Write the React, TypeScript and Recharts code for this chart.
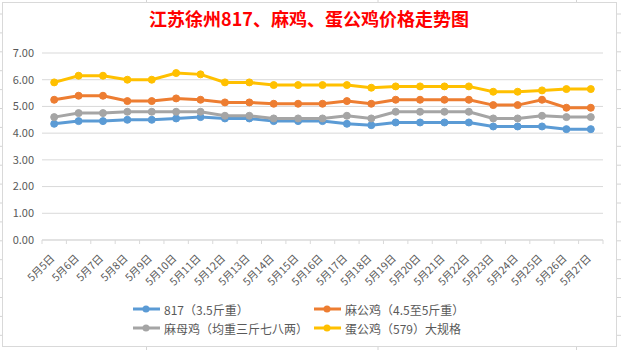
import React from "react";
import { LineChart, Line, XAxis, YAxis, CartesianGrid } from "recharts";

const title = "江苏徐州817、麻鸡、蛋公鸡价格走势图";

const dates = [
    "5月5日", "5月6日", "5月7日", "5月8日", "5月9日", "5月10日", "5月11日", "5月12日",
    "5月13日", "5月14日", "5月15日", "5月16日", "5月17日", "5月18日", "5月19日", "5月20日",
    "5月21日", "5月22日", "5月23日", "5月24日", "5月25日", "5月26日", "5月27日",
];

const price817 = [4.35, 4.45, 4.45, 4.5, 4.5, 4.55, 4.6, 4.55, 4.55, 4.45, 4.45, 4.45, 4.35, 4.3, 4.4, 4.4, 4.4, 4.4, 4.25, 4.25, 4.25, 4.15, 4.15];
const maGongJi = [5.25, 5.4, 5.4, 5.2, 5.2, 5.3, 5.25, 5.15, 5.15, 5.1, 5.1, 5.1, 5.2, 5.1, 5.25, 5.25, 5.25, 5.25, 5.05, 5.05, 5.25, 4.95, 4.95];
const maMuJi = [4.6, 4.75, 4.75, 4.8, 4.8, 4.8, 4.8, 4.65, 4.65, 4.55, 4.55, 4.55, 4.65, 4.55, 4.8, 4.8, 4.8, 4.8, 4.55, 4.55, 4.65, 4.6, 4.6];
const danGongJi = [5.9, 6.15, 6.15, 6.0, 6.0, 6.25, 6.2, 5.9, 5.9, 5.8, 5.8, 5.8, 5.8, 5.7, 5.75, 5.75, 5.75, 5.75, 5.55, 5.55, 5.6, 5.65, 5.65];

const seriesNames = ["817（3.5斤重）", "麻公鸡（4.5至5斤重）", "麻母鸡（均重三斤七八两）", "蛋公鸡（579）大规格"];
const yTicks = [0, 1, 2, 3, 4, 5, 6, 7];

const series = [
    { key: "s817", name: seriesNames[0], color: "#5B9BD5", values: price817 },
    { key: "maGong", name: seriesNames[1], color: "#ED7D31", values: maGongJi },
    { key: "maMu", name: seriesNames[2], color: "#A5A5A5", values: maMuJi },
    { key: "danGong", name: seriesNames[3], color: "#FFC000", values: danGongJi },
];

const data = dates.map((d, i) => {
    const row: Record<string, string | number> = { date: d };
    series.forEach((s) => (row[s.key] = s.values[i]));
    return row;
});

const W = 621;
const H = 350;
const margin = { top: 53, right: 18, bottom: 80, left: 0 };
const yAxisWidth = 42;
const band = (W - margin.left - margin.right - yAxisWidth) / dates.length;
const font = '"Microsoft YaHei", "Noto Sans CJK SC", sans-serif';

function DateTick(props: any) {
    const { x, y, payload, index } = props;
    const tx = x + 1;
    const ty = y + 19;
    return (
        <g>
            <line x1={x - band / 2} y1={y} x2={x - band / 2} y2={y + 4} stroke="#D9D9D9" />
            {index === dates.length - 1 && (
                <line x1={x + band / 2} y1={y} x2={x + band / 2} y2={y + 4} stroke="#D9D9D9" />
            )}
            <text x={tx} y={ty} textAnchor="end" fontSize={10.5} fill="#595959" fontFamily={font} transform={`rotate(-45, ${tx}, ${ty})`}>
                {payload.value}
            </text>
        </g>
    );
}

function LegendItem({ name, color, x, y }: { name: string; color: string; x: number; y: number }) {
    return (
        <div style={{ position: "absolute", left: x, top: y - 9, height: 18, display: "flex", alignItems: "center", whiteSpace: "nowrap" }}>
            <svg width={30} height={10} style={{ marginRight: 2 }}>
                <line x1={1} y1={5} x2={28} y2={5} stroke={color} strokeWidth={3} />
                <circle cx={14} cy={5} r={3.5} fill={color} />
            </svg>
            <span style={{ fontSize: 12, color: "#595959", fontFamily: font }}>{name}</span>
        </div>
    );
}

const colLines = [146.5, 378, 576.5];
const rowLines = Array.from({ length: 18 }, (_, i) => 14 + i * 18.9);

export default function App() {
    const legendPos = [
        { x: 132, y: 309 },
        { x: 313, y: 309 },
        { x: 132, y: 328 },
        { x: 313, y: 328 },
    ];
    return (
        <div style={{ position: "fixed", left: 0, top: 0, width: W, height: H, background: "#fff", overflow: "hidden" }}>
            <svg width={W} height={H} style={{ position: "absolute", left: 0, top: 0 }}>
                {colLines.map((cx) => (
                    <line key={cx} x1={cx} y1={0} x2={cx} y2={H} stroke="#D4D4D4" />
                ))}
                {rowLines.map((ry) => (
                    <line key={ry} x1={0} y1={ry} x2={W} y2={ry} stroke="#D4D4D4" />
                ))}
            </svg>
            <div style={{ position: "absolute", left: 2, top: 2, width: 613, height: 343, background: "#fff", border: "1px solid #D9D9D9" }} />
            <div style={{ position: "absolute", left: 2, top: 8, width: 614, lineHeight: "20px", textAlign: "center", color: "#FF0000", fontWeight: "bold", fontSize: 18, fontFamily: font }}>
                {title}
            </div>
            <div style={{ position: "absolute", left: 0, top: 0 }}>
                <LineChart width={W} height={H} data={data} margin={margin}>
                    <CartesianGrid vertical={false} stroke="#D9D9D9" />
                    <XAxis
                        dataKey="date"
                        interval={0}
                        height={30}
                        padding={{ left: band / 2, right: band / 2 }}
                        tickSize={0}
                        tickMargin={0}
                        tickLine={false}
                        axisLine={{ stroke: "#D9D9D9" }}
                        tick={<DateTick />}
                    />
                    <YAxis
                        width={yAxisWidth}
                        domain={[0, 7]}
                        ticks={yTicks}
                        axisLine={false}
                        tickLine={false}
                        tickFormatter={(v: number) => v.toFixed(2)}
                        tick={{ fontSize: 11, fill: "#595959", fontFamily: font }}
                    />
                    {series.map((s) => (
                        <Line
                            key={s.key}
                            dataKey={s.key}
                            name={s.name}
                            stroke={s.color}
                            strokeWidth={3}
                            dot={{ r: 3.5, fill: s.color, stroke: s.color, strokeWidth: 1 }}
                            isAnimationActive={false}
                        />
                    ))}
                </LineChart>
            </div>
            {series.map((s, i) => (
                <LegendItem key={s.key} name={s.name} color={s.color} x={legendPos[i].x} y={legendPos[i].y} />
            ))}
        </div>
    );
}
